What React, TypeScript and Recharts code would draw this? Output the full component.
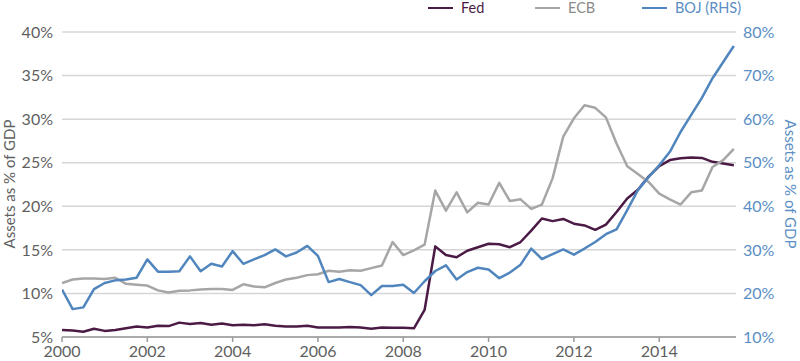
import React from 'react';
import { LineChart, Line, XAxis, YAxis, CartesianGrid, Legend } from 'recharts';

// Quarterly observations, 2000Q1 .. 2015Q4
const START_YEAR = 2000;
const QUARTER_COUNT = 64;
const quarters: number[] = Array.from({ length: QUARTER_COUNT }, (_, i) => START_YEAR + i / 4);

// Fed assets, % of GDP (left axis)
const fed: number[] = [
  5.8, 5.75, 5.6, 5.95,
  5.7, 5.8, 6.0, 6.2,
  6.1, 6.3, 6.25, 6.65,
  6.5, 6.6, 6.4, 6.55,
  6.35, 6.4, 6.35, 6.45,
  6.3, 6.2, 6.2, 6.3,
  6.1, 6.1, 6.1, 6.15,
  6.1, 5.95, 6.1, 6.05,
  6.05, 6.0, 8.1, 15.4,
  14.4, 14.15, 14.9, 15.3,
  15.7, 15.65, 15.3, 15.9,
  17.2, 18.6, 18.3, 18.55,
  18.0, 17.8, 17.3, 17.9,
  19.35, 20.9, 21.9, 23.4,
  24.6, 25.3, 25.5, 25.6,
  25.55, 25.1, 24.9, 24.7,
];

// ECB assets, % of GDP (left axis)
const ecb: number[] = [
  11.2, 11.6, 11.7, 11.7,
  11.65, 11.8, 11.1, 11.0,
  10.9, 10.35, 10.1, 10.3,
  10.35, 10.45, 10.5, 10.5,
  10.4, 11.05, 10.8, 10.7,
  11.2, 11.6, 11.8, 12.1,
  12.2, 12.6, 12.5, 12.65,
  12.6, 12.9, 13.2, 15.9,
  14.4, 14.95, 15.6, 21.8,
  19.5, 21.6, 19.3, 20.4,
  20.2, 22.7, 20.6, 20.8,
  19.7, 20.2, 23.2, 28.0,
  30.1, 31.6, 31.3, 30.2,
  27.2, 24.6, 23.7, 22.8,
  21.45, 20.8, 20.2, 21.6,
  21.8, 24.5, 25.3, 26.6,
];

// BOJ assets, % of GDP (right axis)
const boj: number[] = [
  20.9, 16.4, 16.8, 21.0,
  22.4, 23.0, 23.2, 23.6,
  27.8, 25.0, 25.0, 25.1,
  28.5, 25.1, 26.8, 26.2,
  29.7, 26.8, 27.8, 28.8,
  30.1, 28.5, 29.4, 30.9,
  28.6, 22.6, 23.3, 22.6,
  21.9, 19.6, 21.7, 21.7,
  22.0, 20.1, 22.8, 25.15,
  26.45, 23.2, 24.9, 25.9,
  25.5, 23.5, 24.8, 26.6,
  30.3, 27.9, 29.0, 30.1,
  28.9, 30.3, 31.8, 33.6,
  34.7, 39.1, 43.7, 46.7,
  49.4, 52.5, 57.05, 61.0,
  64.9, 69.4, 73.1, 76.8,
];

const xTicks: number[] = [2000, 2002, 2004, 2006, 2008, 2010, 2012, 2014];
const leftTicks: number[] = [5, 10, 15, 20, 25, 30, 35, 40];
const rightTicks: number[] = [10, 20, 30, 40, 50, 60, 70, 80];

const seriesNames = { fed: 'Fed', ecb: 'ECB', boj: 'BOJ (RHS)' };
const legendOrder: string[] = [seriesNames.fed, seriesNames.ecb, seriesNames.boj];
const axisTitle = 'Assets as % of GDP';

const COLORS = {
  fed: '#4b1b46',
  ecb: '#a6a6a6',
  boj: '#5086bd',
  ecbText: '#8a8a8a',
  bojText: '#5a8ec4',
  grey: '#5f5f5f',
  grid: '#d6d6d6',
  axis: '#9a9a9a',
};

const data = quarters.map((q, i) => ({ q, fed: fed[i], ecb: ecb[i], boj: boj[i] }));

const FONT = 'Lato, "Open Sans", sans-serif';
const TITLE_CY = 184;
const TITLE_SIZE = 15;

const LeftTitle = () => {
  const cx = 15;
  const cy = TITLE_CY;
  return (
    <text x={cx} y={cy} transform={`rotate(-90 ${cx} ${cy})`} textAnchor="middle"
      fill={COLORS.grey} fontSize={TITLE_SIZE} fontFamily={FONT}>{axisTitle}</text>
  );
};

const RightTitle = () => {
  const cx = 785;
  const cy = TITLE_CY;
  return (
    <text x={cx} y={cy} transform={`rotate(90 ${cx} ${cy})`} textAnchor="middle"
      fill={COLORS.bojText} fontSize={TITLE_SIZE} fontFamily={FONT}>{axisTitle}</text>
  );
};

const textColorFor: Record<string, string> = {
  [seriesNames.fed]: COLORS.fed,
  [seriesNames.ecb]: COLORS.ecbText,
  [seriesNames.boj]: COLORS.bojText,
};

const LegendContent = (props: any) => {
  const payload = [...(props.payload || [])].sort(
    (a: any, b: any) => legendOrder.indexOf(a.value) - legendOrder.indexOf(b.value)
  );
  return (
    <div style={{ display: 'flex', flexDirection: 'row', fontFamily: FONT }}>
      {payload.map((p: any) => (
        <div key={p.value} style={{ width: 107, display: 'flex', alignItems: 'center', height: 16 }}>
          <div style={{ width: 25, height: 2.5, background: p.color, marginRight: 8 }} />
          <span style={{ fontSize: 14.5, lineHeight: '16px', color: textColorFor[p.value] || p.color, whiteSpace: 'nowrap' }}>
            {p.value}
          </span>
        </div>
      ))}
    </div>
  );
};

export default function App() {
  return (
    <div style={{ position: 'absolute', left: 0, top: 0, width: 800, height: 361, background: '#fff', fontFamily: FONT }}>
      <LineChart width={800} height={361} data={data} margin={{ top: 32, right: 0, bottom: 0, left: 0 }}>
        <CartesianGrid yAxisId="left" horizontal vertical={false} stroke={COLORS.grid} strokeWidth={1.5} />
        <XAxis
          dataKey="q"
          type="number"
          domain={[2000, 2015.8]}
          ticks={xTicks}
          allowDataOverflow
          height={24}
          axisLine={{ stroke: COLORS.axis, strokeWidth: 1.5 }}
          tickLine={{ stroke: COLORS.axis, strokeWidth: 1.5 }}
          tickSize={5}
          tickMargin={4}
          tick={{ fontSize: 16, fill: COLORS.grey, fontFamily: FONT }}
        />
        <YAxis
          yAxisId="left"
          orientation="left"
          width={62}
          domain={[5, 40]}
          ticks={leftTicks}
          allowDataOverflow
          axisLine={false}
          tickLine={false}
          tickSize={6}
          tickMargin={3}
          tickFormatter={(v: number) => `${v}%`}
          tick={{ fontSize: 16, fill: COLORS.grey, fontFamily: FONT }}
          label={<LeftTitle />}
        />
        <YAxis
          yAxisId="right"
          orientation="right"
          width={64}
          domain={[10, 80]}
          ticks={rightTicks}
          allowDataOverflow
          axisLine={false}
          tickLine={false}
          tickSize={6}
          tickMargin={1}
          tickFormatter={(v: number) => `${v}%`}
          tick={{ fontSize: 16, fill: COLORS.bojText, fontFamily: FONT }}
          label={<RightTitle />}
        />
        <Legend
          layout="vertical"
          align="center"
          verticalAlign="middle"
          content={<LegendContent />}
          wrapperStyle={{ position: 'absolute', top: 0, left: 428, width: 330, height: 16 }}
        />
        <Line yAxisId="left" dataKey="fed" name={seriesNames.fed} stroke={COLORS.fed} strokeWidth={2.5}
          dot={false} activeDot={false} isAnimationActive={false} type="linear" strokeLinejoin="round" />
        <Line yAxisId="left" dataKey="ecb" name={seriesNames.ecb} stroke={COLORS.ecb} strokeWidth={2.5}
          dot={false} activeDot={false} isAnimationActive={false} type="linear" strokeLinejoin="round" />
        <Line yAxisId="right" dataKey="boj" name={seriesNames.boj} stroke={COLORS.boj} strokeWidth={2.5}
          dot={false} activeDot={false} isAnimationActive={false} type="linear" strokeLinejoin="round" />
      </LineChart>
    </div>
  );
}
